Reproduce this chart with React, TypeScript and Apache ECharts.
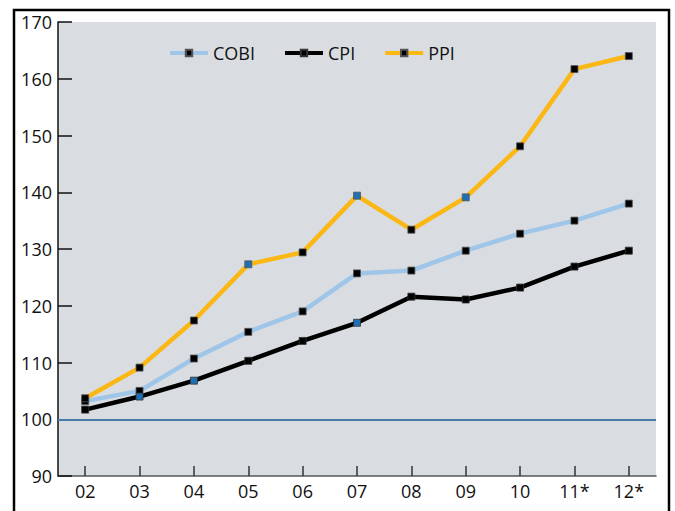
import React, { useEffect, useRef } from "react";
import * as echarts from "echarts";

const categories = ["02", "03", "04", "05", "06", "07", "08", "09", "10", "11*", "12*"];
const cobi = [103.2, 105.0, 110.7, 115.4, 119.0, 125.7, 126.2, 129.7, 132.7, 135.0, 138.0];
const cpi = [101.7, 104.0, 106.8, 110.3, 113.8, 117.0, 121.6, 121.1, 123.2, 126.9, 129.7];
const ppi = [103.7, 109.1, 117.4, 127.3, 129.4, 139.4, 133.4, 139.1, 148.1, 161.7, 164.0];
const cpiBlueIdx = [1, 2, 5];
const ppiBlueIdx = [3, 5, 7];
const baseline = 100;

const FONT = "Open Sans";

function withMarkers(values: number[], blue: number[]) {
  return values.map((v, i) =>
    blue.includes(i) ? { value: v, itemStyle: { color: "#1f6fb4" } } : v
  );
}

export default function App() {
  const ref = useRef<HTMLDivElement>(null);
  useEffect(() => {
    if (!ref.current) return;
    const chart = echarts.init(ref.current, undefined, { renderer: "svg" });
    const lineCommon = {
      type: "line" as const,
      symbol: "rect",
      symbolSize: 7,
      z: 3,
    };
    chart.setOption({
      animation: false,
      backgroundColor: "#ffffff",
      textStyle: { fontFamily: FONT },
      grid: {
        left: 58,
        right: 19,
        top: 22,
        bottom: 35,
        show: true,
        backgroundColor: "#d9dde1",
        borderWidth: 0,
      },
      legend: {
        left: 163,
        top: 39,
        itemWidth: 38,
        itemHeight: 8,
        itemGap: 28,
        lineStyle: { width: 4 },
        textStyle: { fontSize: 18, color: "#111", fontFamily: FONT },
        data: ["COBI", "CPI", "PPI"],
      },
      xAxis: {
        type: "category",
        data: categories,
        boundaryGap: true,
        axisLine: { show: true, lineStyle: { color: "#555", width: 1.5 } },
        axisTick: {
          show: true,
          inside: true,
          alignWithLabel: true,
          length: 10,
          lineStyle: { color: "#333", width: 1.5 },
        },
        axisLabel: { fontSize: 18, color: "#111", margin: 6, fontFamily: FONT },
        splitLine: { show: false },
      },
      yAxis: {
        type: "value",
        min: 90,
        max: 170,
        interval: 10,
        axisLine: { show: true, lineStyle: { color: "#111", width: 1.5 } },
        axisTick: {
          show: true,
          inside: true,
          length: 14,
          lineStyle: { color: "#111", width: 1.5 },
        },
        axisLabel: { fontSize: 18, color: "#111", margin: 6, fontFamily: FONT },
        splitLine: { show: false },
      },
      series: [
        {
          ...lineCommon,
          name: "COBI",
          data: cobi,
          lineStyle: { color: "#9fc5e8", width: 4.5 },
          itemStyle: { color: "#000", borderColor: "#555", borderWidth: 0.8 },
          markLine: {
            silent: true,
            symbol: "none",
            label: { show: false },
            lineStyle: { color: "#4a7bab", width: 2, type: "solid" },
            data: [{ yAxis: baseline }],
            z: 1,
          },
        },
        {
          ...lineCommon,
          name: "CPI",
          data: withMarkers(cpi, cpiBlueIdx),
          lineStyle: { color: "#000", width: 4.5 },
          itemStyle: { color: "#000", borderColor: "#333", borderWidth: 0.8 },
        },
        {
          ...lineCommon,
          name: "PPI",
          data: withMarkers(ppi, ppiBlueIdx),
          lineStyle: { color: "#fbb714", width: 4.5 },
          itemStyle: { color: "#000", borderColor: "#555", borderWidth: 0.8 },
        },
      ],
      graphic: [
        {
          type: "rect",
          shape: { x: 14, y: 10, width: 655, height: 530 },
          style: { fill: "none", stroke: "#000", lineWidth: 2.5 },
          silent: true,
          z: 100,
        },
      ],
    });
    return () => chart.dispose();
  }, []);
  return (
    <div
      ref={ref}
      style={{ position: "fixed", left: 0, top: 0, width: 675, height: 511 }}
    />
  );
}
